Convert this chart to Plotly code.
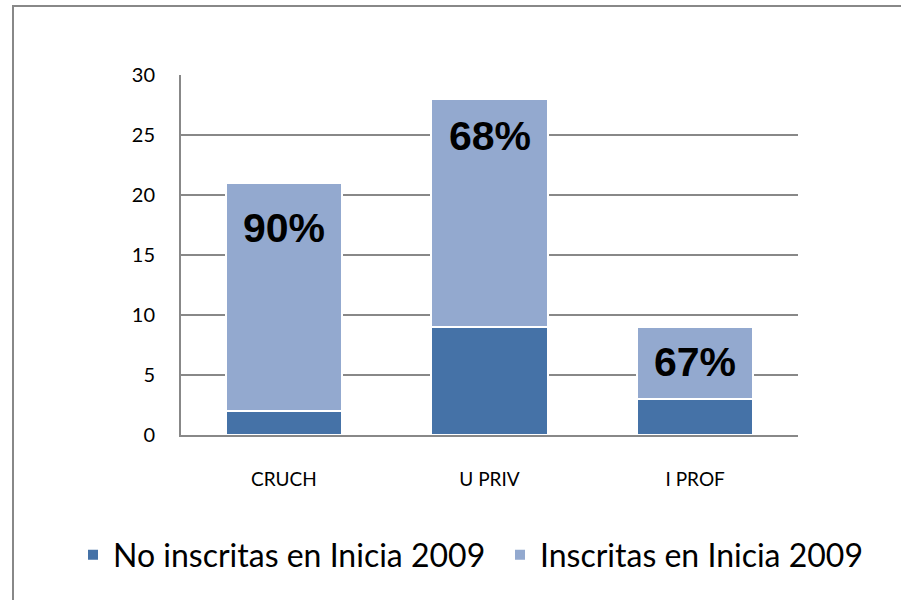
import plotly.graph_objects as go

categories = ["CRUCH", "U PRIV", "I PROF"]
no_inscritas = [2, 9, 3]
inscritas = [19, 19, 6]
series_names = ["No inscritas en Inicia 2009", "Inscritas en Inicia 2009"]
y_ticks = [0, 5, 10, 15, 20, 25, 30]

DARK = "#4572A7"
LIGHT = "#93A9CF"
FONT = "Lato, Calibri, sans-serif"

L, R, T, B = 181, 103, 75, 165
PW, PH = 901 - L - R, 600 - T - B

fig = go.Figure()
fig.add_trace(go.Bar(x=categories, y=no_inscritas, name=series_names[0], legend="legend",
                     marker=dict(color=DARK, line=dict(color="white", width=2))))
fig.add_trace(go.Bar(x=categories, y=inscritas, name=series_names[1], legend="legend2",
                     marker=dict(color=LIGHT, line=dict(color="white", width=2))))

label_offsets = [3.75, 3.1, 2.9]
for i, cat in enumerate(categories):
    total = no_inscritas[i] + inscritas[i]
    pct = round(100 * inscritas[i] / total)
    fig.add_annotation(x=cat, y=total - label_offsets[i], text=f"<b>{pct}%</b>",
                       showarrow=False, xref="x", yref="y",
                       font=dict(family="Liberation Sans, Arial", size=41, color="black"))

fig.add_shape(type="rect", xref="paper", yref="paper",
              x0=(13 - L) / PW, x1=(1100 - L) / PW,
              y0=(T + PH - 900) / PH, y1=(T + PH - 6) / PH,
              line=dict(color="#888888", width=2), fillcolor="rgba(0,0,0,0)", layer="below")

legend_common = dict(orientation="h", xanchor="left", y=(T + PH - 555) / PH, yanchor="middle",
                     font=dict(size=32, family=FONT), itemwidth=30,
                     bgcolor="rgba(0,0,0,0)")

fig.update_layout(
    barmode="stack",
    bargap=0.435,
    width=901, height=600,
    margin=dict(l=L, r=R, t=T, b=B, pad=0),
    paper_bgcolor="white", plot_bgcolor="white",
    font=dict(family=FONT, color="black"),
    showlegend=True,
    legend=dict(x=(73 - L) / PW, **legend_common),
    legend2=dict(x=(500 - L) / PW, **legend_common),
    xaxis=dict(showline=True, linecolor="#888888", linewidth=2, showgrid=False,
               ticks="", tickfont=dict(size=19, family=FONT), ticklabelstandoff=26),
    yaxis=dict(range=[0, 30], tickvals=y_ticks, showline=True, linecolor="#888888",
               linewidth=2, showgrid=True, gridcolor="#888888", gridwidth=2,
               zeroline=False, ticks="", tickfont=dict(size=20, family=FONT),
               ticklabelstandoff=20),
)

fig.write_html("out.html", config={"displayModeBar": False},
               post_script="document.body.style.margin='0';document.body.style.overflow='hidden';")
